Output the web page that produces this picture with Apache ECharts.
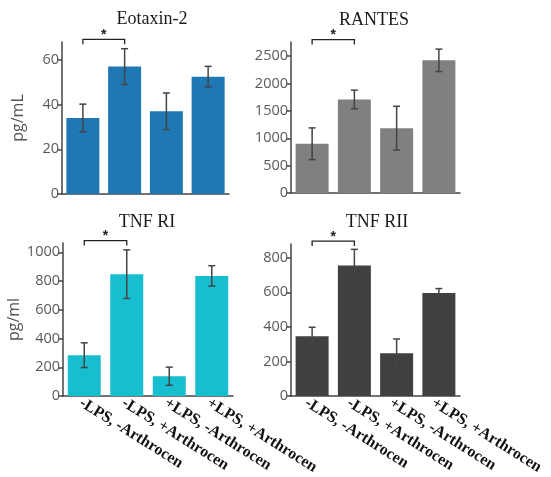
<!DOCTYPE html>
<html>
<head>
<meta charset="UTF-8">
<title>Cytokines</title>
<style>html,body{margin:0;padding:0;background:#fff;}</style>
</head>
<body>
<div id="chart" style="width:551px;height:477px;"></div>
<script src="https://cdn.jsdelivr.net/npm/echarts@6/dist/echarts.min.js"></script>
<script>
// groups on the x axis
var categories = ['-LPS, -Arthrocen', '-LPS, +Arthrocen', '+LPS, -Arthrocen', '+LPS, +Arthrocen'];
var panelTitles = ['Eotaxin-2', 'RANTES', 'TNF RI', 'TNF RII'];

// means and error (+/-) per group
var eotaxinMean = [34, 57, 37, 52.5];
var eotaxinErr = [6.2, 8, 8.2, 4.6];
var rantesMean = [900, 1710, 1185, 2425];
var rantesErr = [290, 170, 400, 205];
var tnfr1Mean = [284, 848, 138, 836];
var tnfr1Err = [86, 169, 63, 71];
var tnfr2Mean = [346, 756, 248, 597];
var tnfr2Err = [52, 93, 82, 25];

// y axis ticks and tops
var eotaxinTicks = [0, 20, 40, 60];
var rantesTicks = [0, 500, 1000, 1500, 2000, 2500];
var tnfr1Ticks = [0, 200, 400, 600, 800, 1000];
var tnfr2Ticks = [0, 200, 400, 600, 800];
var yMax = [68, 2760, 1065, 880];
var yNames = ['pg/mL', '', 'pg/ml', ''];

// significance brackets: [from group, to group, height]
var sigBrackets = [[0, 1, 69.2], [0, 1, 2805], [0, 1, 1082], [0, 1, 897]];

var colors = ['#1f77b4', '#808080', '#17becf', '#404040'];
var means = [eotaxinMean, rantesMean, tnfr1Mean, tnfr2Mean];
var errs = [eotaxinErr, rantesErr, tnfr1Err, tnfr2Err];
var ticks = [eotaxinTicks, rantesTicks, tnfr1Ticks, tnfr2Ticks];

var chart = echarts.init(document.getElementById('chart'));

var grids = [
  {left: 62, top: 42, width: 167, height: 152},
  {left: 291, top: 42, width: 169, height: 151},
  {left: 63, top: 243, width: 170, height: 153},
  {left: 291, top: 244, width: 169, height: 152},
  // label-only grids (bottom row), nudged left a little like the original
  {left: 59.5, top: 243, width: 170, height: 153},
  {left: 285, top: 244, width: 169, height: 152}
];

var axisColor = '#444';
var xAxes = [], yAxes = [], series = [];
for (var i = 0; i < 4; i++) {
  xAxes.push({
    gridIndex: i, type: 'category', data: categories,
    axisLine: {lineStyle: {color: axisColor, width: 1.5}},
    axisTick: {show: false},
    axisLabel: {show: false}
  });
  yAxes.push({
    gridIndex: i, type: 'value', min: 0, max: yMax[i],
    name: yNames[i], nameLocation: 'middle', nameGap: 36,
    nameTextStyle: {fontFamily: 'Open Sans', fontSize: 16, color: '#555'},
    axisLine: {show: true, lineStyle: {color: axisColor, width: 1.5}},
    axisTick: {show: true, length: 5, customValues: ticks[i], lineStyle: {color: axisColor, width: 1.5}},
    axisLabel: {customValues: ticks[i], margin: 3, fontFamily: 'Open Sans', fontSize: 14.5, color: '#5a5a5a',
      formatter: function (v) { return String(v); }},
    splitLine: {show: false}
  });
  series.push({
    type: 'bar', xAxisIndex: i, yAxisIndex: i, data: means[i],
    barWidth: 33, itemStyle: {color: colors[i]}
  });
  series.push({
    type: 'custom', xAxisIndex: i, yAxisIndex: i, z: 5, clip: false,
    data: means[i].map(function (m, k) { return [k, m - errs[i][k], m + errs[i][k]]; }),
    renderItem: function (params, api) {
      var lo = api.coord([api.value(0), api.value(1)]);
      var hi = api.coord([api.value(0), api.value(2)]);
      var st = {stroke: '#444', lineWidth: 1.5};
      var cw = 3.5;
      return {type: 'group', children: [
        {type: 'line', shape: {x1: lo[0], y1: lo[1], x2: hi[0], y2: hi[1]}, style: st},
        {type: 'line', shape: {x1: hi[0] - cw, y1: hi[1], x2: hi[0] + cw, y2: hi[1]}, style: st},
        {type: 'line', shape: {x1: lo[0] - cw, y1: lo[1], x2: lo[0] + cw, y2: lo[1]}, style: st}
      ]};
    }
  });
  series.push({
    type: 'custom', xAxisIndex: i, yAxisIndex: i, z: 5, clip: false,
    data: [sigBrackets[i]],
    renderItem: function (params, api) {
      var a = api.coord([api.value(0), api.value(2)]);
      var b = api.coord([api.value(1), api.value(2)]);
      return {type: 'group', children: [
        {type: 'polyline', shape: {points: [[a[0], a[1] + 5], [a[0], a[1]], [b[0], b[1]], [b[0], b[1] + 5]]},
         style: {stroke: '#222', lineWidth: 1.3, fill: null}},
        {type: 'text', x: (a[0] + b[0]) / 2, y: a[1] - 4,
         style: {text: '*', textAlign: 'center', textVerticalAlign: 'middle', font: 'bold 14px "Liberation Sans"', fill: '#222'}}
      ]};
    }
  });
}
// label axes for the bottom row
for (var j = 4; j < 6; j++) {
  xAxes.push({
    gridIndex: j, type: 'category', data: categories,
    axisLine: {show: false}, axisTick: {show: false},
    axisLabel: {rotate: -32, margin: 19, interval: 0, fontFamily: 'Liberation Serif', fontWeight: 'bold', fontSize: 16, color: '#111'}
  });
  yAxes.push({gridIndex: j, type: 'value', show: false});
}

var titlePos = [[152, 19], [374, 20], [147, 222], [377, 222]];
var graphics = panelTitles.map(function (t, k) {
  return {type: 'text', x: titlePos[k][0], y: titlePos[k][1],
    style: {text: t, textAlign: 'center', textVerticalAlign: 'middle', font: '18px "Liberation Serif"', fill: '#1a1a1a'}};
});

chart.setOption({
  animation: false,
  grid: grids,
  xAxis: xAxes,
  yAxis: yAxes,
  series: series,
  graphic: graphics
});
</script>
</body>
</html>
